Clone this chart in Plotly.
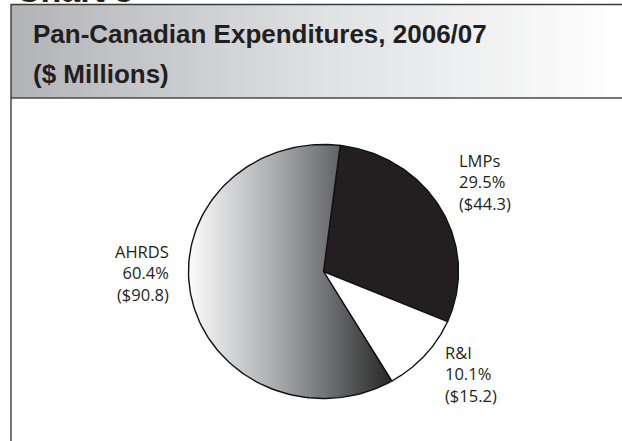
import numpy as np
import plotly.graph_objects as go

# Pan-Canadian expenditures, 2006/07 ($ millions)
categories = ["LMPs", "R&I", "AHRDS"]
expenditures = [44.3, 15.2, 90.8]

title_lines = ["Pan-Canadian Expenditures, 2006/07", "($ Millions)"]
chart_number = "Chart 3"

# ---- layout constants (pixel space) ----
W, H = 622, 441
CX, CY, RX, RY = 323.5, 271.5, 135.0, 127.0   # elliptical pie
START_DEG = 7.1                               # first wedge edge, clockwise from 12 o'clock
INK = "#231f20"

wedge_style = {
    "LMPs": dict(fillcolor=INK),
    "R&I": dict(fillcolor="#ffffff"),
    "AHRDS": dict(fillgradient=dict(
        type="horizontal",
        colorscale=[[0.0, "#fcfcfc"], [0.45, "#a6a7aa"], [1.0, "#272727"]])),
}

# label anchor: (x, y_top, xanchor, align)
label_pos = {
    "LMPs": (457, 147, "left", "left"),
    "R&I": (443, 339, "left", "left"),
    "AHRDS": (171, 238, "right", "right"),
}

total = sum(expenditures)
shares = [v / total for v in expenditures]


def wedge(a0, a1, n=120):
    t = np.radians(np.linspace(a0, a1, n))
    xs = np.concatenate([[CX], CX + RX * np.sin(t), [CX]])
    ys = np.concatenate([[CY], CY - RY * np.cos(t), [CY]])
    return xs, ys


fig = go.Figure()

# header band with left-to-right grey gradient
fig.add_trace(go.Scatter(
    x=[11, W, W, 11, 11], y=[4.5, 4.5, 98, 98, 4.5],
    mode="lines", fill="toself", line=dict(width=0),
    fillgradient=dict(type="horizontal",
                      colorscale=[[0, "#b2b3b6"], [0.5, "#dfe0e2"], [1, "#ffffff"]]),
    hoverinfo="skip", showlegend=False))

# pie wedges
angle = START_DEG
for name, share in zip(categories, shares):
    a1 = angle + 360 * share
    xs, ys = wedge(angle, a1)
    fig.add_trace(go.Scatter(
        x=xs, y=ys, mode="lines", fill="toself",
        line=dict(color="#111111", width=1.4),
        hoverinfo="skip", showlegend=False, **wedge_style[name]))
    angle = a1

# wedge labels
annotations = []
for name, val, share in zip(categories, expenditures, shares):
    x, y, xa, al = label_pos[name]
    annotations.append(dict(
        x=x, y=y, xref="x", yref="y", xanchor=xa, yanchor="top", align=al,
        text=f"{name}<br>{share * 100:.1f}%<br>(${val:.1f})",
        showarrow=False, font=dict(family="Open Sans", size=16.5, color=INK)))

# header titles
for txt, ytop in zip(title_lines, [17, 57]):
    annotations.append(dict(
        x=31, y=ytop, xref="x", yref="y", xanchor="left", yanchor="top",
        text=txt, showarrow=False,
        font=dict(family="Liberation Sans", size=26, weight="bold", color=INK)))

# chart number, mostly above the page edge
annotations.append(dict(
    x=14, y=11, xref="x", yref="y", xanchor="left", yanchor="bottom",
    text=chart_number, showarrow=False,
    font=dict(family="Liberation Sans", size=34, weight="bold", color=INK)))

shapes = [
    dict(type="line", x0=11, x1=W, y0=4.5, y1=4.5, xref="x", yref="y",
         line=dict(color="#3a3a3a", width=1.6)),
    dict(type="line", x0=11, x1=W, y0=98, y1=98, xref="x", yref="y",
         line=dict(color="#4a4a4a", width=1.6)),
    dict(type="line", x0=11, x1=11, y0=4, y1=H, xref="x", yref="y",
         line=dict(color="#3a3a3a", width=1.4)),
]

fig.update_layout(
    width=W, height=H, margin=dict(l=0, r=0, t=0, b=0),
    paper_bgcolor="white", plot_bgcolor="white",
    xaxis=dict(range=[0, W], visible=False, fixedrange=True),
    yaxis=dict(range=[H, 0], visible=False, fixedrange=True),
    showlegend=False, hovermode=False,
    annotations=annotations, shapes=shapes,
)

fig.write_html("out.html")
